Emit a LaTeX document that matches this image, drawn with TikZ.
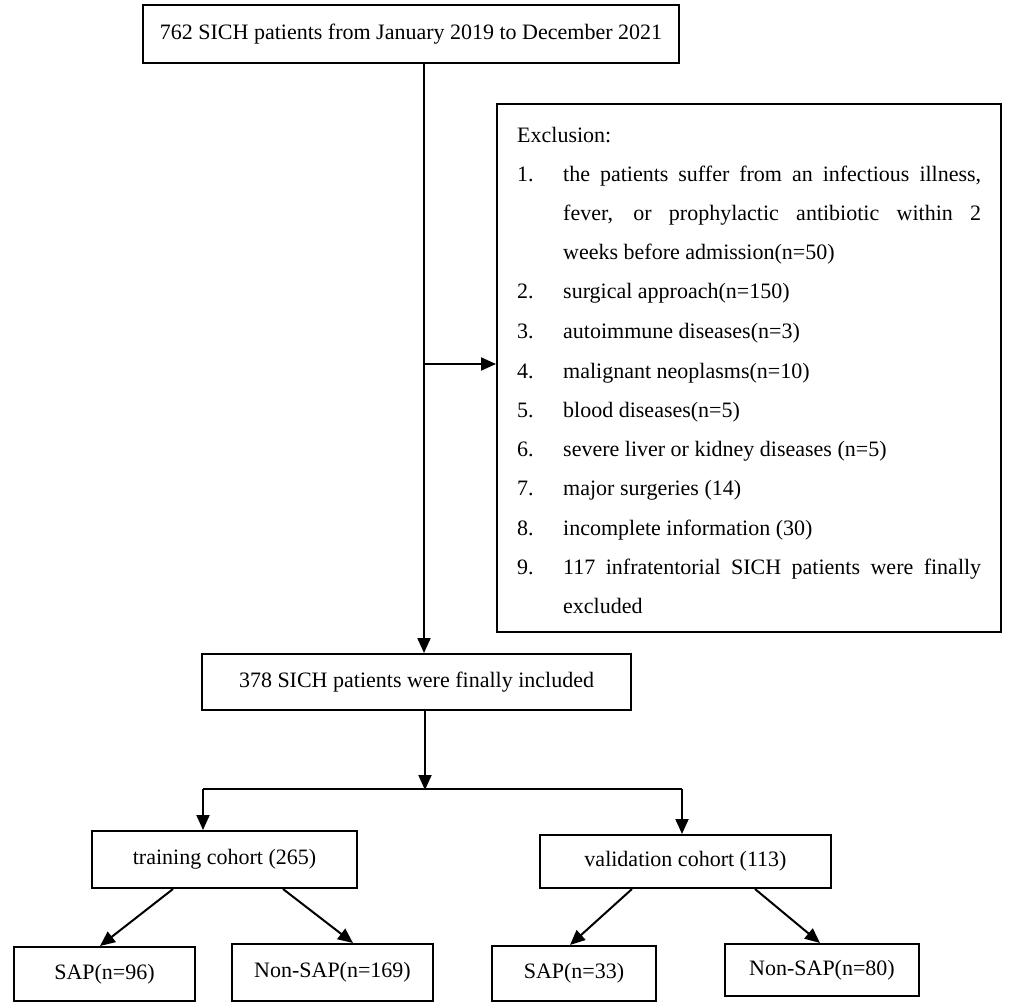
\documentclass[tikz,border=0pt]{standalone}
\usepackage{fontspec}
\setmainfont{Liberation Serif}
\usetikzlibrary{arrows.meta,calc}
\begin{document}
\begin{tikzpicture}[x=1pt,y=-1pt,
  every node/.style={font=\fontsize{22}{26}\selectfont},
  box/.style={draw,line width=2pt,inner sep=0pt,align=center},
  ln/.style={line width=2pt},
  arr/.style={line width=2pt,-{Triangle[width=13pt,length=15pt]}},
  txt/.style={inner sep=0pt,anchor=base west}]
\useasboundingbox (0,0) rectangle (1013,1003);
% boxes
\node[box,minimum width=536pt,minimum height=58pt] (top) at (411,34) {762 SICH patients from January 2019 to December 2021};
\node[box,minimum width=504pt,minimum height=528pt] (excl) at (749,368) {};
\node[box,minimum width=429pt,minimum height=56pt] (incl) at (416.5,682) {378 SICH patients were finally included};
\node[box,minimum width=265pt,minimum height=57pt] (train) at (224.5,859.5) {training cohort (265)};
\node[box,minimum width=291pt,minimum height=53pt] (valid) at (685.5,861.5) {validation cohort (113)};
\node[box,minimum width=181pt,minimum height=54pt] (sap1) at (104.5,974) {SAP(n=96)};
\node[box,minimum width=201pt,minimum height=57pt] (nsap1) at (332.5,972.5) {Non-SAP(n=169)};
\node[box,minimum width=164pt,minimum height=55pt] (sap2) at (574,973.5) {SAP(n=33)};
\node[box,minimum width=194pt,minimum height=52pt] (nsap2) at (822,970) {Non-SAP(n=80)};
% exclusion text
\node[txt] (e0) at (517,142.5) {Exclusion:};
\node[txt] (n1) at (517,181.8) {1.};
\node[txt] (t1a) at (563,181.8) {\makebox[418pt][s]{the patients suffer from an infectious illness,}};
\node[txt] (t1b) at (563,221) {\makebox[418pt][s]{fever, or prophylactic antibiotic within 2}};
\node[txt] (t1c) at (563,260) {weeks before admission(n=50)};
\node[txt] (n2) at (517,299) {2.};
\node[txt] (t2) at (563,299) {surgical approach(n=150)};
\node[txt] (n3) at (517,338.5) {3.};
\node[txt] (t3) at (563,338.5) {autoimmune diseases(n=3)};
\node[txt] (n4) at (517,378) {4.};
\node[txt] (t4) at (563,378) {malignant neoplasms(n=10)};
\node[txt] (n5) at (517,417) {5.};
\node[txt] (t5) at (563,417) {blood diseases(n=5)};
\node[txt] (n6) at (517,456) {6.};
\node[txt] (t6) at (563,456) {severe liver or kidney diseases (n=5)};
\node[txt] (n7) at (517,495.5) {7.};
\node[txt] (t7) at (563,495.5) {major surgeries (14)};
\node[txt] (n8) at (517,535) {8.};
\node[txt] (t8) at (563,535) {incomplete information (30)};
\node[txt] (n9) at (517,574) {9.};
\node[txt] (t9a) at (563,574) {\makebox[418pt][s]{117 infratentorial SICH patients were finally}};
\node[txt] (t9b) at (563,613) {excluded};
% connectors
\coordinate (mainx) at (424,0);
\coordinate (hy) at (424,364);
\draw[arr] (top.south -| mainx) -- (incl.north -| mainx);
\draw[arr] (hy) -- (hy -| excl.west);
\coordinate (split) at (425,789);
\coordinate (bl) at (203,789);
\coordinate (br) at (682,789);
\draw[arr] (incl.south -| split) -- ($(split)+(0,1)$);
\draw[ln] (bl) -- (br);
\draw[arr] (bl) -- (bl |- train.north);
\draw[arr] (br) -- (br |- valid.north);
\draw[arr] ($(train.south west)+(82,0)$) -- ($(sap1.north west)+(87,0)$);
\draw[arr] ($(train.south west)+(192,0)$) -- ($(nsap1.north west)+(122,0)$);
\draw[arr] ($(valid.south west)+(93,0)$) -- ($(sap2.north west)+(79,0)$);
\draw[arr] ($(valid.south west)+(216,0)$) -- ($(nsap2.north west)+(96,0)$);
\end{tikzpicture}
\end{document}
